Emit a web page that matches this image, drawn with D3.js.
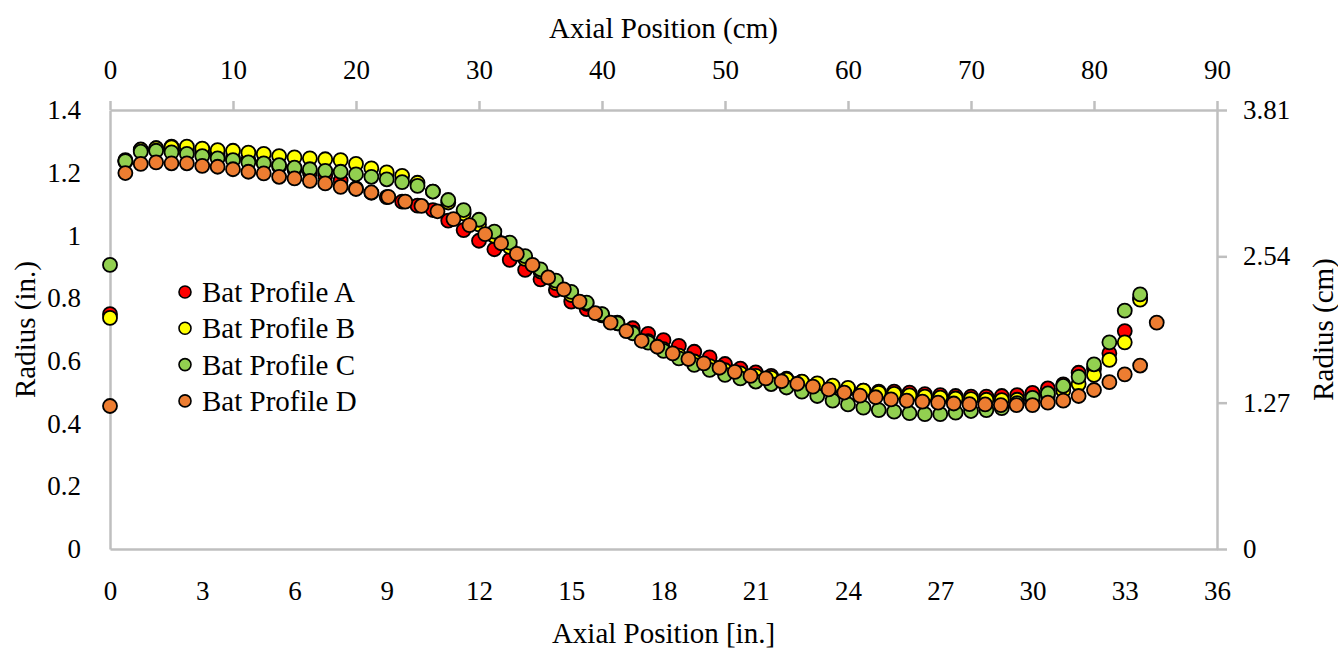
<!DOCTYPE html>
<html>
<head>
<meta charset="utf-8">
<script src="https://cdn.jsdelivr.net/npm/d3@7"></script>
<style>
  body { margin: 0; background: #fff; }
  svg text { font-family: "Liberation Serif", "Times New Roman", serif; fill: #000; }
</style>
</head>
<body>
<div id="chart"></div>
<script>
// axial positions (in.) shared by profiles A, B, C
var posABC = [0, 0.5, 1, 1.5, 2, 2.5, 3, 3.5, 4, 4.5, 5, 5.5, 6, 6.5, 7, 7.5, 8, 8.5, 9, 9.5,
  10, 10.5, 11, 11.5, 12, 12.5, 13, 13.5, 14, 14.5, 15, 15.5, 16, 16.5, 17, 17.5, 18, 18.5, 19, 19.5,
  20, 20.5, 21, 21.5, 22, 22.5, 23, 23.5, 24, 24.5, 25, 25.5, 26, 26.5, 27, 27.5, 28, 28.5, 29, 29.5,
  30, 30.5, 31, 31.5, 32, 32.5, 33, 33.5];

// profile D sits on slightly different positions
var posD = [0, 0.5, 1, 1.5, 2, 2.5, 3, 3.5, 4, 4.5, 5, 5.5, 6, 6.5, 7, 7.5, 8, 8.5,
  9.05, 9.6, 10.13, 10.65, 11.17, 11.69, 12.2, 12.72, 13.23, 13.74, 14.25, 14.76, 15.27, 15.78,
  16.28, 16.79, 17.29, 17.8, 18.3, 18.81, 19.31, 19.82, 20.32, 20.83, 21.33, 21.84, 22.35, 22.86,
  23.37, 23.88, 24.39, 24.9, 25.4, 25.91, 26.42, 26.93, 27.44, 27.95, 28.46, 28.97, 29.48, 30.0,
  30.5, 31.0, 31.5, 32.0, 32.5, 33.0, 33.5, 34.04];

// radius (in.)
var radA = [0.749, 1.235, 1.272, 1.278, 1.283, 1.272, 1.262, 1.255, 1.245, 1.24, 1.232, 1.22, 1.21, 1.2, 1.19, 1.175, 1.15, 1.136, 1.122, 1.108,
  1.095, 1.081, 1.047, 1.017, 0.983, 0.956, 0.922, 0.89, 0.86, 0.826, 0.789, 0.765, 0.745, 0.722, 0.704, 0.686, 0.666, 0.648, 0.629, 0.611,
  0.59, 0.575, 0.563, 0.552, 0.543, 0.533, 0.525, 0.517, 0.511, 0.505, 0.502, 0.502, 0.499, 0.494, 0.491, 0.488, 0.486, 0.486, 0.488, 0.491,
  0.498, 0.512, 0.525, 0.562, 0.575, 0.624, 0.695, 0.80];

var radB = [0.737, 1.24, 1.274, 1.278, 1.281, 1.283, 1.277, 1.272, 1.27, 1.264, 1.26, 1.253, 1.249, 1.246, 1.243, 1.24, 1.228, 1.214, 1.201, 1.19,
  1.168, 1.14, 1.105, 1.07, 1.035, 0.998, 0.963, 0.925, 0.885, 0.848, 0.81, 0.782, 0.748, 0.72, 0.69, 0.663, 0.637, 0.617, 0.598, 0.583,
  0.57, 0.56, 0.552, 0.546, 0.54, 0.534, 0.528, 0.521, 0.514, 0.505, 0.498, 0.495, 0.49, 0.486, 0.483, 0.48, 0.478, 0.476, 0.475, 0.476,
  0.48, 0.49, 0.505, 0.526, 0.555, 0.603, 0.659, 0.795];

var radC = [0.906, 1.237, 1.267, 1.27, 1.265, 1.26, 1.253, 1.246, 1.24, 1.233, 1.23, 1.224, 1.216, 1.211, 1.206, 1.203, 1.195, 1.187, 1.179, 1.17,
  1.158, 1.14, 1.113, 1.081, 1.05, 1.012, 0.977, 0.934, 0.892, 0.856, 0.82, 0.786, 0.749, 0.72, 0.688, 0.658, 0.632, 0.608, 0.587, 0.571,
  0.555, 0.544, 0.534, 0.526, 0.515, 0.502, 0.488, 0.473, 0.461, 0.451, 0.443, 0.438, 0.433, 0.43, 0.43, 0.435, 0.44, 0.443, 0.449, 0.465,
  0.482, 0.496, 0.52, 0.549, 0.589, 0.659, 0.76, 0.812];

var radD = [0.456, 1.199, 1.228, 1.233, 1.23, 1.23, 1.222, 1.219, 1.211, 1.203, 1.198, 1.187, 1.182, 1.174, 1.166, 1.155, 1.148, 1.137,
  1.123, 1.108, 1.094, 1.077, 1.052, 1.033, 1.004, 0.975, 0.941, 0.906, 0.866, 0.828, 0.789, 0.752,
  0.722, 0.695, 0.664, 0.645, 0.624, 0.606, 0.592, 0.578, 0.565, 0.552, 0.544, 0.535, 0.527, 0.518,
  0.509, 0.499, 0.489, 0.484, 0.477, 0.473, 0.47, 0.467, 0.464, 0.462, 0.461, 0.459, 0.459, 0.459,
  0.467, 0.473, 0.488, 0.507, 0.532, 0.557, 0.585, 0.722];

var names = ["Bat Profile A", "Bat Profile B", "Bat Profile C", "Bat Profile D"];
var colors = ["#ff0000", "#ffff00", "#92d050", "#ed7d31"];

var inTicks = [0, 3, 6, 9, 12, 15, 18, 21, 24, 27, 30, 33, 36];
var cmTicks = [0, 10, 20, 30, 40, 50, 60, 70, 80, 90];
var radInTicks = [0, 0.2, 0.4, 0.6, 0.8, 1, 1.2, 1.4];
var radCmTicks = [0, 1.27, 2.54, 3.81];

var width = 1338, height = 650;
var plotL = 110, plotR = 1217, plotT = 110, plotB = 549;
var axisColor = "#bfbfbf";

var svg = d3.select("#chart").append("svg")
  .attr("width", width)
  .attr("height", height);

var x = d3.scaleLinear().domain([0, 36]).range([plotL, plotR]);
var xTop = d3.scaleLinear().domain([0, 90]).range([plotL, plotR]);
var y = d3.scaleLinear().domain([0, 1.4]).range([plotB, plotT]);
var yRight = d3.scaleLinear().domain([0, 3.81]).range([plotB, plotT]);

function styleAxis(g) {
  g.select(".domain").attr("stroke", axisColor).attr("stroke-width", 2.5);
  g.selectAll(".tick line").attr("stroke", axisColor).attr("stroke-width", 2.5);
  g.selectAll(".tick text").attr("font-size", 27).attr("font-family", "Liberation Serif").attr("fill", "#000");
  g.attr("font-size", null).attr("font-family", null);
}

// bottom (in.)
svg.append("g")
  .attr("transform", "translate(0," + plotB + ")")
  .call(d3.axisBottom(x).tickValues(inTicks).tickSize(0).tickPadding(32).tickSizeOuter(0).tickFormat(d3.format("d")))
  .call(styleAxis);

// top (cm)
svg.append("g")
  .attr("transform", "translate(0," + plotT + ")")
  .call(d3.axisTop(xTop).tickValues(cmTicks).tickSize(9).tickSizeOuter(0).tickPadding(22).tickFormat(d3.format("d")))
  .call(styleAxis);

// left (in.)
svg.append("g")
  .attr("transform", "translate(" + plotL + ",0)")
  .call(d3.axisLeft(y).tickValues(radInTicks).tickSize(0).tickSizeOuter(0).tickPadding(29).tickFormat(function (d) { return String(+d.toFixed(1)); }))
  .call(styleAxis);

// right (cm)
svg.append("g")
  .attr("transform", "translate(" + plotR + ",0)")
  .call(d3.axisRight(yRight).tickValues(radCmTicks).tickSize(10).tickSizeOuter(0).tickPadding(16).tickFormat(function (d) { return d === 0 ? "0" : d.toFixed(2); }))
  .call(styleAxis);

// axis titles
svg.append("text").attr("x", (plotL + plotR) / 2).attr("y", 28).attr("dy", "0.35em")
  .attr("text-anchor", "middle").attr("font-size", 29).text("Axial Position (cm)");
svg.append("text").attr("x", (plotL + plotR) / 2).attr("y", 633).attr("dy", "0.35em")
  .attr("text-anchor", "middle").attr("font-size", 29).text("Axial Position [in.]");
svg.append("text").attr("transform", "translate(25," + (plotT + plotB) / 2 + ") rotate(-90)").attr("dy", "0.35em")
  .attr("text-anchor", "middle").attr("font-size", 29).text("Radius (in.)");
svg.append("text").attr("transform", "translate(1323," + (plotT + plotB) / 2 + ") rotate(-90)").attr("dy", "0.35em")
  .attr("text-anchor", "middle").attr("font-size", 29).text("Radius (cm)");

// series
var series = [
  { name: names[0], color: colors[0], xs: posABC, ys: radA },
  { name: names[1], color: colors[1], xs: posABC, ys: radB },
  { name: names[2], color: colors[2], xs: posABC, ys: radC },
  { name: names[3], color: colors[3], xs: posD, ys: radD }
];

series.forEach(function (s) {
  var pts = s.xs.map(function (v, i) { return [v, s.ys[i]]; });
  svg.append("g").selectAll("circle")
    .data(pts)
    .enter()
    .append("circle")
    .attr("cx", function (d) { return x(d[0]); })
    .attr("cy", function (d) { return y(d[1]); })
    .attr("r", 7)
    .attr("fill", s.color)
    .attr("stroke", "#000")
    .attr("stroke-width", 1.8);
});

// legend
var legend = svg.append("g").attr("transform", "translate(185,292)");
var rows = legend.selectAll("g").data(series).enter().append("g")
  .attr("transform", function (d, i) { return "translate(0," + i * 36.3 + ")"; });
rows.append("circle").attr("r", 6).attr("fill", function (d) { return d.color; })
  .attr("stroke", "#000").attr("stroke-width", 1.6);
rows.append("text").attr("x", 17).attr("dy", "0.35em").attr("font-size", 29)
  .text(function (d) { return d.name; });
</script>
</body>
</html>
